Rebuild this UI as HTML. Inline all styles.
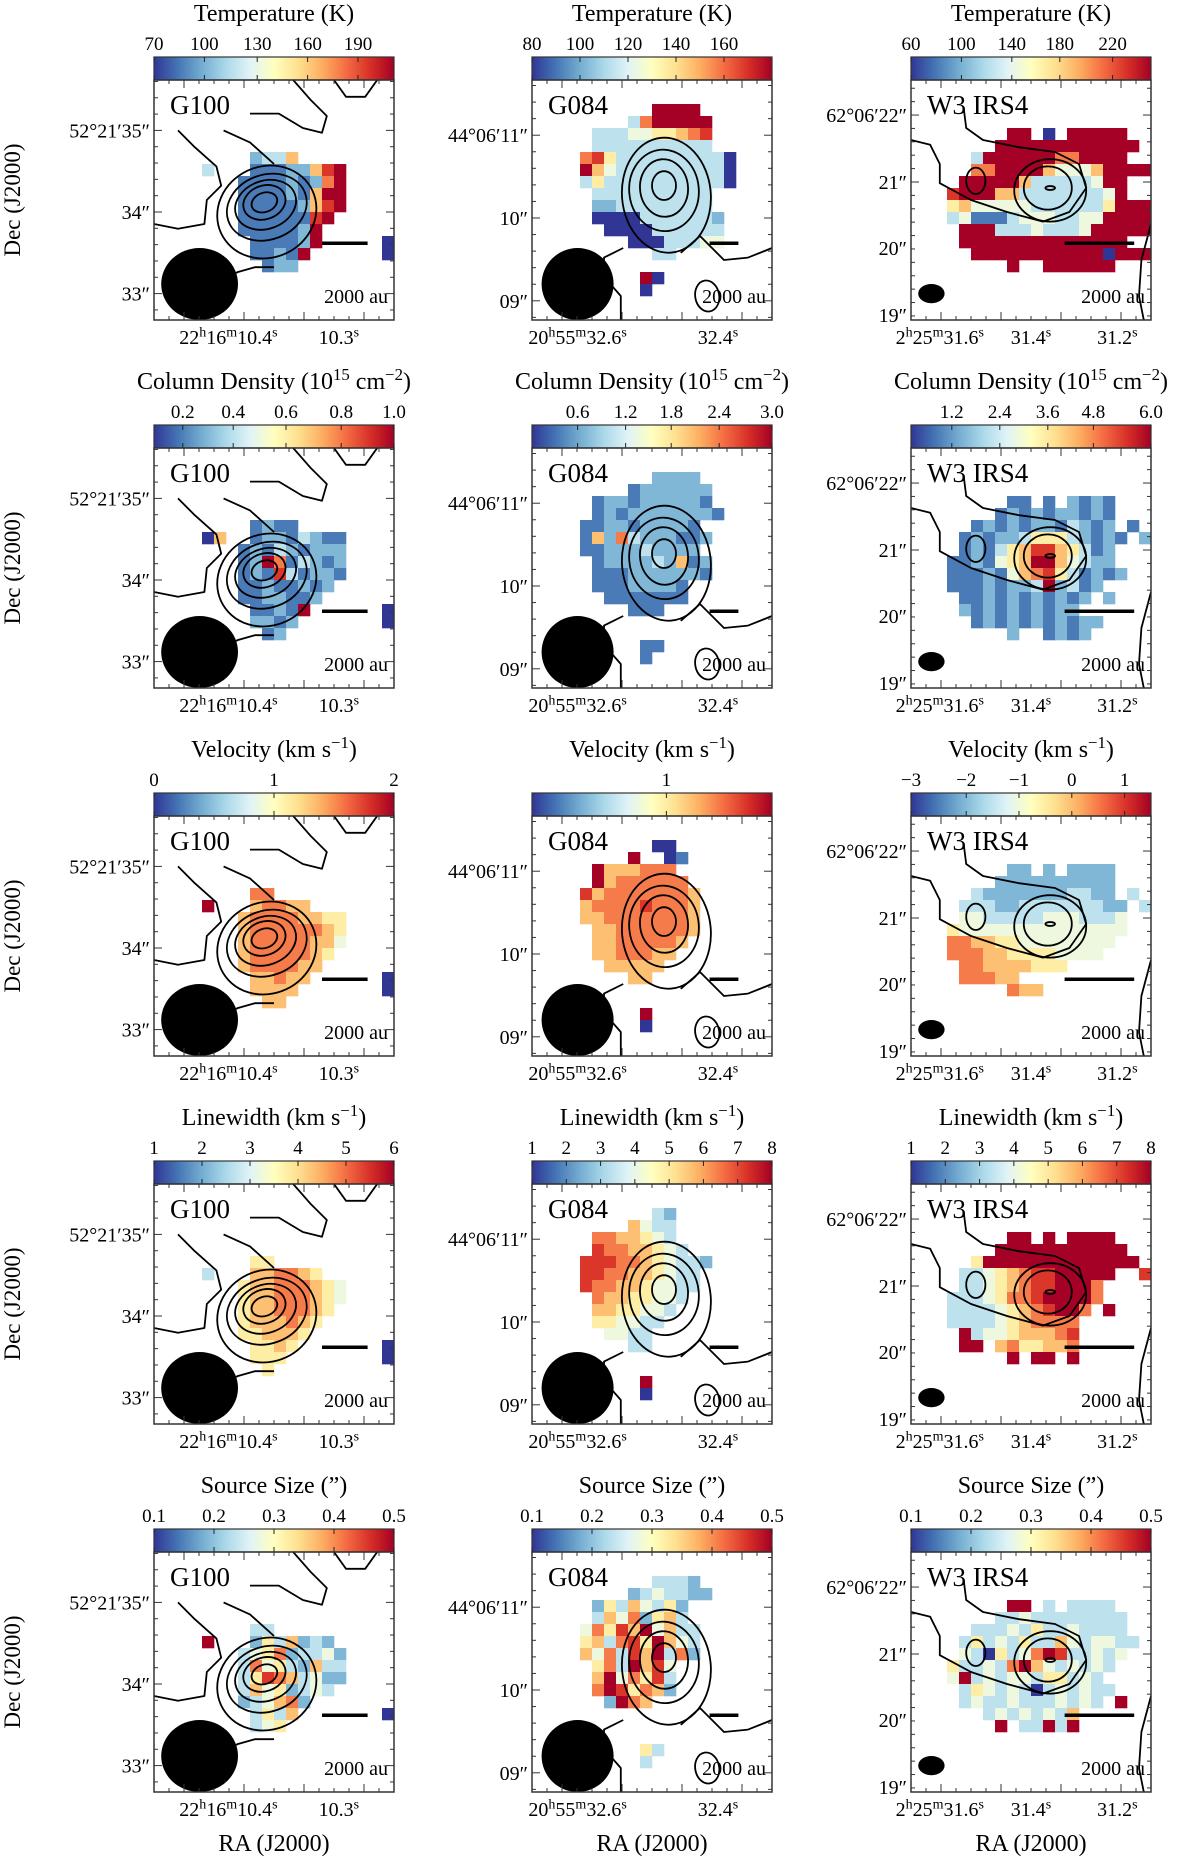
<!DOCTYPE html>
<html><head><meta charset="utf-8"><style>
html,body{margin:0;padding:0;background:#fff;}
svg{display:block;font-family:"Liberation Serif","DejaVu Serif",serif;}
</style></head><body>
<svg id="fig" width="1200" height="1858" viewBox="0 0 1200 1858" xmlns="http://www.w3.org/2000/svg"></svg>
<script>
// ---------------- DATA ----------------
const sources = ["G100","G084","W3 IRS4"];
const quantities = ["Temperature","Column Density","Velocity","Linewidth","Source Size"];
const cbarTickLabels = [
 [["70","100","130","160","190"],["80","100","120","140","160"],["60","100","140","180","220"]],
 [["0.2","0.4","0.6","0.8","1.0"],["0.6","1.2","1.8","2.4","3.0"],["1.2","2.4","3.6","4.8","6.0"]],
 [["0","1","2"],["1"],["\u22123","\u22122","\u22121","0","1"]],
 [["1","2","3","4","5","6"],["1","2","3","4","5","6","7","8"],["1","2","3","4","5","6","7","8"]],
 [["0.1","0.2","0.3","0.4","0.5"],["0.1","0.2","0.3","0.4","0.5"],["0.1","0.2","0.3","0.4","0.5"]]
];
const cbarTickPos = [
 [[0,.21,.43,.64,.85],[0,.2,.4,.6,.8],[0,.21,.42,.62,.84]],
 [[.12,.33,.55,.78,1],[.19,.39,.58,.78,1],[.17,.37,.57,.76,1]],
 [[0,.5,1],[.56],[0,.23,.45,.67,.89]],
 [[0,.2,.4,.6,.8,1],[0,1/7,2/7,3/7,4/7,5/7,6/7,1],[0,1/7,2/7,3/7,4/7,5/7,6/7,1]],
 [[0,.25,.5,.75,1],[0,.25,.5,.75,1],[0,.25,.5,.75,1]]
];
const yTickLabels = [["52\u00b021\u203235\u2033","34\u2033","33\u2033"],["44\u00b006\u203211\u2033","10\u2033","09\u2033"],["62\u00b006\u203222\u2033","21\u2033","20\u2033","19\u2033"]];
const yTickPos = [[.21,.55,.89],[.23,.575,.92],[.146,.425,.70,.98]];
const xTickLabels = [[["22","h","16","m","10.4","s"],["10.3","s"]],[["20","h","55","m","32.6","s"],["32.4","s"]],[["2","h","25","m","31.6","s"],["31.4","s"],["31.2","s"]]];
const xTickPos = [[.31,.77],[.19,.775],[.12,.5,.86]];
// heatmap grids: 20x20, digit = colour level 0..9, '.' = blank
const G100_T=["","","","","","","........2336","....3...11122689",".......111121279",".......111121699",".......111112689",".......11111189",".......1111129","........111129.....0","........11219......0",".........122"];
const G100_N=["","","","","","","........1211","....06..12213211",".......121321222",".......129713212",".......121831221",".......11211212",".......1122112","........11219......0","........2212.......0",".........12"];
const G100_V=["","","","","","","........77","....9...67766",".......677776655",".......677777765",".......677777664",".......67777765",".......6777766","........66766......0","........6666.......0",".........66"];
const G100_W=["","","","","","","........55","....3...667765",".......566777654",".......566777654",".......56677765",".......5666765",".......556665","........5565.......0","........555........0",".........5"];
const G100_S=["","","","","","","........33","....9...2536232",".......345723342",".......374532633",".......358763422",".......36452343",".......234672","........3536.......0","........345"];
const G084_T=["","","..........9999","........3799999",".....3334455678",".....3333333333","....7853333333330","....9643333333330","....3533333333330",".....3333333333",".....2233333333",".....00003333332","......0000333333","........00033344","..........33","",".........90",".........0"];
const G084_N=["","","..........2222","........1222222",".....1221222221",".....12122222221","....1122122221","....16273222112","....1122232222",".....1222232612",".....1112222221",".....11122221","......1111111","........111","","",".........11",".........1"];
const G084_V=["","","..........00","........9..01",".....9666777",".....96777777","....8677777776","....6777787776","....6677777776",".....667777776",".....66777776",".....6677766","......66666","........66","","",".........9",".........0"];
const G084_W=["","","..........32","........6433",".....7766543",".....87766543","....88877654332","....8877665433","....8776654433",".....76655443",".....6655443",".....554433","......4433","........33","","",".........9",".........0"];
const G084_S=["","","..........3332","........2343322",".....25364352",".....36472563","....4758694633","....5637859643","....6473869372",".....5739684",".....6947583",".....7985762","......2976","","","",".........53",".........3"];
const W3_T=["","","","","........99.0.99999",".......999999999999",".....3999999779999",".....7799996444699999.4","....99999633333499","...899966333333349","...56444443333335999...9","...34111344433449999","....99933343334999999","....99999999999999",".....999999999990999","........9..999999"];
const W3_N=["","","","","........11.1.2121",".......1212122121",".....121212213212.1","....12122355532121.2","....1213568865312","...11214569964322","...111214678531212","...1112122392312","....11212121212.2","....2121212122",".....12121212122","........2..1212"];
const W3_V=["","","","","........22.2.2222",".......2222222222",".....322222223322.3","....33322333333322.3","....44333334443334","...544444444444444","...77665544444444","...7776655554444","....776666555","....77766","........766"];
const W3_W=["","","","","........99.9.9999",".......99999999999",".....59999999999999","....3345678899999..8","....334567889997","...3334577899997","...333345678997.9","...33334567777","....9344566678","....99.6755667","........9.99.9","........."];
const W3_S=["","","","","........99.3.3333",".......33433333333",".....3334353343333..8","....353435336434433.3","....43053479833434","...53343796434343","...4934344355343","....3543430343433","....343343334343.9","......34343436",".......9.33939"];
const grids=[[G100_T,G084_T,W3_T],[G100_N,G084_N,W3_N],[G100_V,G084_V,W3_V],[G100_W,G084_W,W3_W],[G100_S,G084_S,W3_S]];
// contour annotations (fractions of panel box)
const contourEllipses=[
 [[.46,.51,.055,.04,-20],[.46,.51,.09,.07,-20],[.465,.52,.13,.1,-20],[.47,.53,.17,.135,-20],[.47,.55,.21,.19,-25]],
 [[.55,.44,.05,.06,0],[.55,.45,.1,.12,-5],[.55,.46,.145,.17,-5],[.56,.48,.185,.24,-5],[.73,.9,.05,.065,-10]],
 [[.58,.45,.02,.008,0],[.57,.45,.1,.09,0],[.58,.46,.15,.13,0],[.27,.42,.04,.055,0]]
];
const contourLines=[
 [[[.1,.21],[.17,.28],[.26,.36],[.28,.44],[.22,.5],[.21,.6],[.1,.62],[0,.6]],[[.4,.14],[.52,.14],[.62,.2],[.7,.22],[.72,.15],[.65,.08],[.58,0]],[[.75,0],[.8,.07],[.88,.07],[.93,0]],[[.29,.21],[.4,.26],[.5,.35]],[[.5,.78],[.42,.78],[.35,.8],[.3,.82]]],
 [[[.37,1],[.37,.9],[.3,.82],[.3,.74],[.38,.7]],[[.62,.72],[.7,.65],[.8,.75],[.9,.74],[1,.7]]],
 [[[.22,.12],[.23,.2],[.3,.25],[.45,.28],[.6,.3],[.7,.35],[.73,.45],[.66,.55],[.55,.59],[.4,.55],[.25,.5],[.12,.43],[.12,.35],[.08,.27],[0,.25]],[[1,.6],[.96,.75],[.95,.9],[.97,1]]]
];
const beams=[[.19,.85,.16,.15],[.19,.85,.15,.15],[.085,.89,.055,.04]];
const scaleBars=[[.7,.89,.68],[.74,.86,.68],[.64,.93,.68]];
// ---------------- DRAW ----------------
const svg=document.getElementById('fig');
const NS='http://www.w3.org/2000/svg';
const BOXX=[154,532,911], BW=240, BH=240, ROWH=368, TOP0=80, CBH=23, NG=20;
const stops=["#313695","#4575b4","#74add1","#abd9e9","#e0f3f8","#ffffbf","#fee090","#fdae61","#f46d43","#d73027","#a50026"];
function hex(c){return [parseInt(c.slice(1,3),16),parseInt(c.slice(3,5),16),parseInt(c.slice(5,7),16)];}
function cmap(t){t=Math.max(0,Math.min(1,t));const p=t*(stops.length-1),i=Math.min(Math.floor(p),stops.length-2),f=p-i;const a=hex(stops[i]),b=hex(stops[i+1]);return 'rgb('+a.map((v,k)=>Math.round(v+(b[k]-v)*f)).join(',')+')';}
function mk(tag,attrs,parent){const e=document.createElementNS(NS,tag);for(const k in attrs)e.setAttribute(k,attrs[k]);(parent||svg).appendChild(e);return e;}
function txt(x,y,s,size,anchor,parent){const t=mk('text',{x:x,y:y,'font-size':size,'text-anchor':anchor||'middle',fill:'#000'},parent);t.textContent=s;return t;}
function supText(x,y,segs,size,anchor,parent){
 const t=mk('text',{x:x,y:y,'font-size':size,'text-anchor':anchor||'middle',fill:'#000'},parent);
 segs.forEach((s,i)=>{const sp=mk('tspan',{},t);if(i%2===1){sp.setAttribute('font-size',size*0.7);sp.setAttribute('dy',-size*0.38);}else if(i>0){sp.setAttribute('dy',size*0.38);}sp.textContent=s;});return t;}
const defs=mk('defs',{});
const lg=mk('linearGradient',{id:'rdylbu',x1:0,x2:1,y1:0,y2:0},defs);
stops.forEach((c,i)=>mk('stop',{offset:i/(stops.length-1),'stop-color':c},lg));
const titles=[["Temperature (K)"],["Column Density (10","15"," cm","\u22122",")"],["Velocity (km s","\u22121",")"],["Linewidth (km s","\u22121",")"],["Source Size (\u201d)"]];

for(let r=0;r<5;r++){
 const top=TOP0+r*ROWH;
 const yl=txt(0,0,"Dec (J2000)",23,'middle');
 yl.setAttribute('transform','translate(20,'+(top+BH/2)+') rotate(-90)');
 
 
 for(let c=0;c<3;c++){
  const bx=BOXX[c];
  const g=mk('g',{});
  
  
  const tt=supText(bx+BW/2,top-CBH-36,titles[r],24,'middle',g);
  
  
  const cb=mk('rect',{x:bx,y:top-CBH,width:BW,height:CBH,fill:'url(#rdylbu)',stroke:'#333','stroke-width':1.2},g);
  
  
  cbarTickPos[r][c].forEach((p,i)=>{
   const x=bx+p*BW;
   mk('line',{x1:x,x2:x,y1:top-CBH,y2:top-CBH+5,stroke:'#222','stroke-width':1},g);
   mk('line',{x1:x,x2:x,y1:top,y2:top-5,stroke:'#222','stroke-width':1},g);
   const tl=txt(x,top-CBH-7,cbarTickLabels[r][c][i],19,'middle',g);
   
   
  });
  const cp=mk('clipPath',{id:'cp'+r+c},defs);mk('rect',{x:bx,y:top,width:BW,height:BH},cp);
  const inner=mk('g',{'clip-path':'url(#cp'+r+c+')'},g);
  const grid=grids[r][c], cs=BW/NG;
  grid.forEach((row,ri)=>{for(let ci=0;ci<row.length&&ci<NG;ci++){const ch=row[ci];if(ch==='.')continue;const v=+ch;
   const cell=mk('rect',{x:bx+ci*cs,y:top+ri*cs,width:cs+0.3,height:cs+0.3,fill:cmap(v/9)},inner);
   
   }});
  contourEllipses[c].forEach(e=>{const el=mk('ellipse',{cx:bx+e[0]*BW,cy:top+e[1]*BH,rx:e[2]*BW,ry:e[3]*BH,fill:'none',stroke:'#000','stroke-width':1.8,transform:'rotate('+e[4]+' '+(bx+e[0]*BW)+' '+(top+e[1]*BH)+')'},inner);
   
   });
  contourLines[c].forEach(L=>{const d=L.map((p,i)=>(i?'L':'M')+(bx+p[0]*BW).toFixed(1)+' '+(top+p[1]*BH).toFixed(1)).join(' ');
   const pl=mk('path',{d:d,fill:'none',stroke:'#000','stroke-width':1.8,'stroke-linejoin':'round'},inner);
   
   });
  const b=beams[c];
  const be=mk('ellipse',{cx:bx+b[0]*BW,cy:top+b[1]*BH,rx:b[2]*BW,ry:b[3]*BH,fill:'#000'},inner);
  
  
  const sb=scaleBars[c];
  const sl=mk('line',{x1:bx+sb[0]*BW,x2:bx+sb[1]*BW,y1:top+sb[2]*BH,y2:top+sb[2]*BH,stroke:'#000','stroke-width':3.5},g);
  
  
  const st=txt(bx+BW-6,top+0.93*BH,"2000 au",20,'end',g);
  
  
  const sn=txt(bx+16,top+0.1*BH+10,sources[c],27,'start',g);
  
  
  const box=mk('rect',{x:bx,y:top,width:BW,height:BH,fill:'none',stroke:'#333','stroke-width':1.5},g);
  
  
  const yp=yTickPos[c], ystep=(yp[1]-yp[0])/5;
  for(let f=yp[0]-5*ystep;f<=1.001;f+=ystep){if(f<0)continue;const y=top+f*BH;const major=yTickPos[c].some(q=>Math.abs(q-f)<1e-3);const L=major?8:4;
   mk('line',{x1:bx,x2:bx+L,y1:y,y2:y,stroke:'#333','stroke-width':1},g);mk('line',{x1:bx+BW,x2:bx+BW-L,y1:y,y2:y,stroke:'#333','stroke-width':1},g);}
  yp.forEach((p,i)=>{const yt=txt(bx-4,top+p*BH+7,yTickLabels[c][i],20,'end',g);
   
   });
  for(let k=0;k<=16;k++){const x=bx+k*BW/16;const L=(k%4===2)?8:4;
   mk('line',{x1:x,x2:x,y1:top+BH,y2:top+BH-L,stroke:'#333','stroke-width':1},g);mk('line',{x1:x,x2:x,y1:top,y2:top+L,stroke:'#333','stroke-width':1},g);}
  xTickPos[c].forEach((p,i)=>{const xt=supText(bx+p*BW,top+BH+24,xTickLabels[c][i],20,'middle',g);
   
   });
  if(r===4){const ra=txt(bx+BW/2,top+BH+59,"RA (J2000)",24,'middle',g);
   
   }
 }
}
</script>
</body></html>
